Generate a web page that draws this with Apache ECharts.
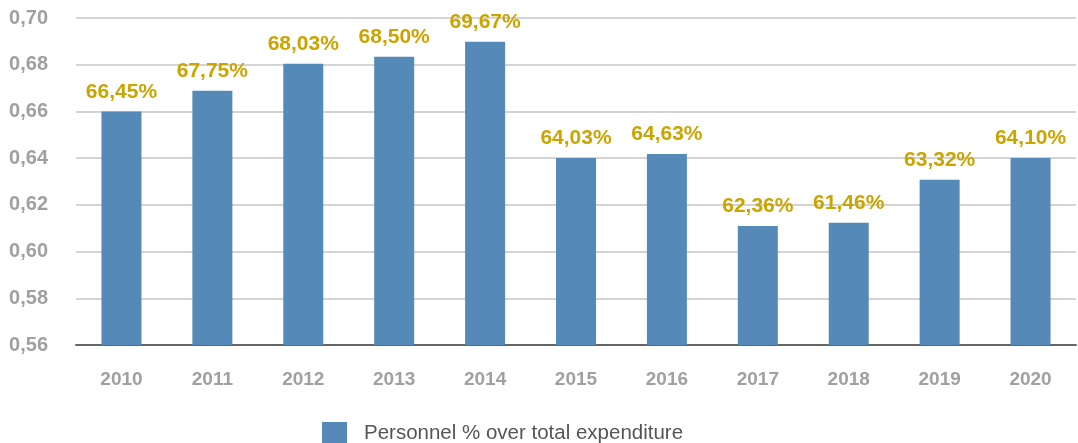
<!DOCTYPE html>
<html>
<head>
<meta charset="utf-8">
<style>
  html, body { margin: 0; padding: 0; background: #ffffff; }
  #chart { width: 1078px; height: 443px; }
</style>
<script src="https://cdn.jsdelivr.net/npm/echarts@6/dist/echarts.min.js"></script>
</head>
<body>
<div id="chart"></div>
<script>
const categories = ['2010', '2011', '2012', '2013', '2014', '2015', '2016', '2017', '2018', '2019', '2020'];
const barValues = [0.660, 0.6688, 0.6804, 0.6834, 0.6898, 0.6401, 0.6418, 0.6110, 0.6123, 0.6307, 0.6401];
const barLabels = ['66,45%', '67,75%', '68,03%', '68,50%', '69,67%', '64,03%', '64,63%', '62,36%', '61,46%', '63,32%', '64,10%'];
const seriesName = 'Personnel % over total expenditure';

const chart = echarts.init(document.getElementById('chart'), null, { renderer: 'canvas' });
const font = '"Liberation Sans", Arial, Helvetica, sans-serif';
chart.setOption({
  animation: false,
  backgroundColor: '#ffffff',
  textStyle: { fontFamily: font },
  grid: { left: 76, right: 2, top: 18, bottom: 98, containLabel: false },
  legend: {
    left: 322,
    top: 422,
    padding: 0,
    itemWidth: 25,
    itemHeight: 22,
    icon: 'rect',
    data: [seriesName],
    textStyle: { color: '#555555', fontSize: 20.5, fontFamily: font, padding: [0, 0, 0, 12] }
  },
  xAxis: {
    type: 'category',
    data: categories,
    axisTick: { show: false },
    axisLine: { show: true, lineStyle: { color: '#666666', width: 2 } },
    axisLabel: { color: '#a0a0a0', fontSize: 19, fontWeight: 'bold', margin: 25, fontFamily: font }
  },
  yAxis: {
    type: 'value',
    min: 0.56,
    max: 0.70,
    interval: 0.02,
    axisLine: { show: false },
    axisTick: { show: false },
    splitLine: { lineStyle: { color: '#d4d4d4', width: 2 } },
    axisLabel: {
      color: '#a0a0a0', fontSize: 20, fontWeight: 'bold', margin: 28, fontFamily: font,
      formatter: v => v.toFixed(2).replace('.', ',')
    }
  },
  series: [{
    name: seriesName,
    type: 'bar',
    data: barValues,
    barWidth: 40,
    itemStyle: { color: '#5589b8' },
    label: {
      show: true,
      position: 'top',
      distance: 9,
      color: '#cba400',
      fontSize: 21,
      fontWeight: 'bold',
      fontFamily: font,
      formatter: p => barLabels[p.dataIndex]
    }
  }]
});
</script>
</body>
</html>
